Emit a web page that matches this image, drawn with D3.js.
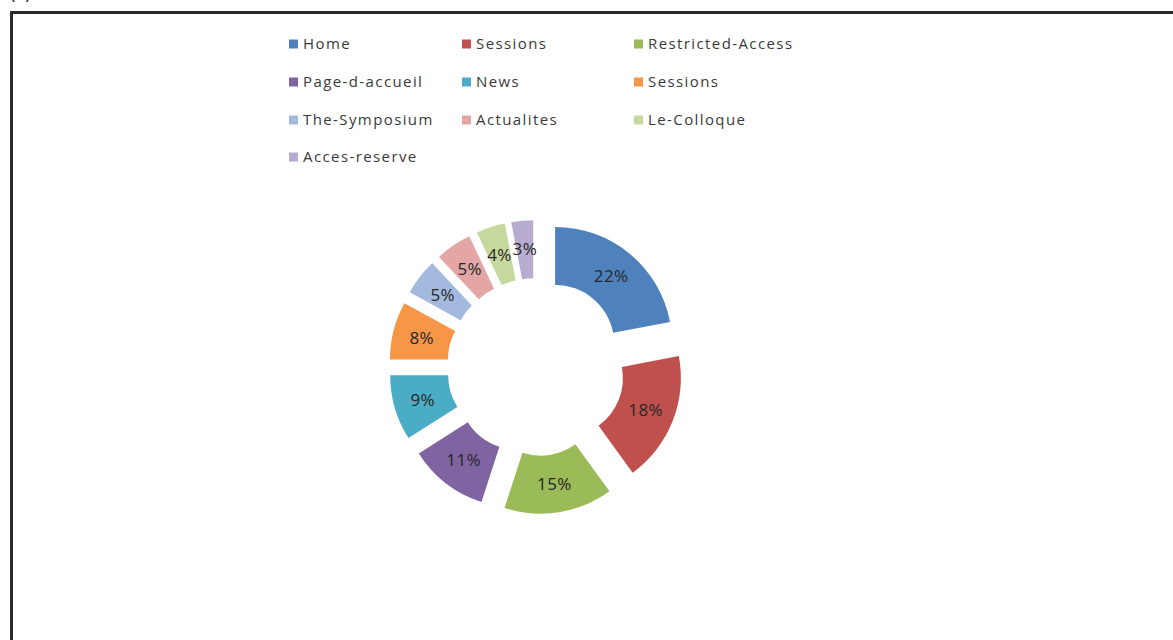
<!DOCTYPE html>
<meta charset="utf-8">
<style>
    body {
        margin: 0;
        background: #fff;
    }
    text {
        font-family: "Open Sans", sans-serif;
    }
    .legend text {
        font-size: 15px;
        fill: #3a3a3a;
        letter-spacing: 1.4px;
    }
    .pct {
        font-size: 17px;
        fill: #262626;
        letter-spacing: 0.4px;
    }
</style>
<body>
<script src="https://d3js.org/d3.v7.min.js"></script>
<script>
    // page names and their share of visits (%)
    const categories = ["Home", "Sessions", "Restricted-Access", "Page-d-accueil", "News",
        "Sessions", "The-Symposium", "Actualites", "Le-Colloque", "Acces-reserve"];
    const shares = [22, 18, 15, 11, 9, 8, 5, 5, 4, 3];
    const colors = ["#4f81bd", "#c0504d", "#9bbb59", "#8064a2", "#4bacc6",
        "#f79646", "#a4b9de", "#e3a6a5", "#c5d99e", "#b7abd0"];

    const width = 1173, height = 640;

    const svg = d3.select("body").append("svg")
        .attr("width", width)
        .attr("height", height);

    // frame + panel tag (cut off at the top, as in the source)
    svg.append("text")
        .attr("x", 10)
        .attr("y", -1)
        .style("font-size", "18px")
        .style("fill", "#222")
        .text("(a)");

    svg.append("path")
        .attr("d", "M11.5," + height + "V12.5H" + width)
        .attr("fill", "none")
        .attr("stroke", "#2b2b2b")
        .attr("stroke-width", 3);

    // exploded doughnut
    const cx = 536, cy = 367;
    const rIn = 59, rOut = 117, explode = 30;

    const data = categories.map((c, i) => ({name: c, value: shares[i], color: colors[i]}));

    const pie = d3.pie()
        .sort(null)
        .value(d => d.value);

    const arc = d3.arc()
        .innerRadius(rIn)
        .outerRadius(rOut);

    const labelArc = d3.arc()
        .innerRadius((rIn + rOut) / 2)
        .outerRadius((rIn + rOut) / 2);

    const total = d3.sum(shares);

    const offset = d => {
        const a = (d.startAngle + d.endAngle) / 2;
        return [Math.sin(a) * explode, -Math.cos(a) * explode];
    };

    const g = svg.append("g")
        .attr("transform", `translate(${cx},${cy})`);

    const slices = g.selectAll("g.slice")
        .data(pie(data))
        .enter().append("g")
        .attr("class", "slice")
        .attr("transform", d => `translate(${offset(d)})`);

    slices.append("path")
        .attr("d", arc)
        .attr("fill", d => d.data.color);

    slices.append("text")
        .attr("class", "pct")
        .attr("transform", d => `translate(${labelArc.centroid(d)})`)
        .attr("text-anchor", "middle")
        .attr("dy", "0.35em")
        .text(d => Math.round(d.data.value / total * 100) + "%");

    // legend, 3 per row
    const colX = [289, 462, 634];
    const rowY = [44, 82, 120, 157];

    const legend = svg.append("g")
        .attr("class", "legend")
        .selectAll("g")
        .data(data)
        .enter().append("g")
        .attr("transform", (d, i) => `translate(${colX[i % 3]},${rowY[Math.floor(i / 3)]})`);

    legend.append("rect")
        .attr("x", 0)
        .attr("y", -4.5)
        .attr("width", 9)
        .attr("height", 9)
        .attr("fill", d => d.color);

    legend.append("text")
        .attr("x", 14)
        .attr("dy", "0.35em")
        .text(d => d.name);
</script>
